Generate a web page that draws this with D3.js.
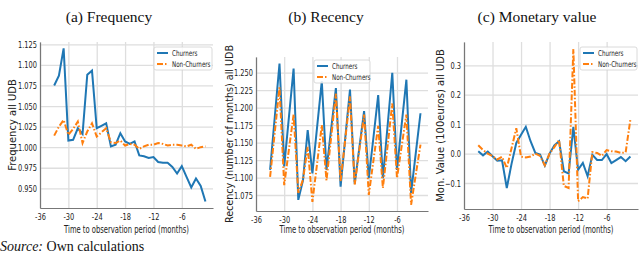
<!DOCTYPE html>
<html>
<head>
<meta charset="utf-8">
<script src="https://cdn.jsdelivr.net/npm/d3@7"></script>
<style>
body { margin: 0; background: #fff; }
svg { display: block; }
</style>
</head>
<body>
<script>
// months before the observation period
var months = d3.range(-33, 0);
var monthTicks = [-36, -30, -24, -18, -12, -6];

var freqChurners = [1.075, 1.087, 1.120, 1.008, 1.009, 1.023, 1.016, 1.088, 1.093, 1.023, 1.026, 1.029, 1.001, 1.003, 1.017,
    1.007, 1.004, 1.007, 0.990, 0.989, 0.987, 0.988, 0.982, 0.981, 0.981, 0.976, 0.968, 0.977, 0.964, 0.951, 0.962, 0.953, 0.934];
var freqNonChurners = [1.014, 1.025, 1.033, 1.015, 1.022, 1.031, 1.005, 1.019, 1.029, 1.013, 1.018, 1.023, 1.006, 1.005, 1.008,
    1.002, 1.004, 1.003, 0.998, 1.001, 1.003, 1.003, 1.005, 1.004, 1.002, 1.003, 1.003, 1.002, 1.001, 1.003, 0.998, 1.000, 1.001];

var recChurners = [1.111, 1.187, 1.263, 1.116, 1.186, 1.256, 1.068, 1.096, 1.168, 1.106, 1.172, 1.238, 1.111, 1.170, 1.228,
    1.087, 1.157, 1.226, 1.091, 1.143, 1.195, 1.099, 1.158, 1.218, 1.099, 1.174, 1.250, 1.111, 1.176, 1.240, 1.078, 1.135, 1.192];
var recNonChurners = [1.101, 1.165, 1.229, 1.089, 1.140, 1.190, 1.078, 1.097, 1.144, 1.065, 1.120, 1.175, 1.096, 1.158, 1.220,
    1.095, 1.155, 1.216, 1.090, 1.140, 1.190, 1.075, 1.125, 1.174, 1.085, 1.145, 1.206, 1.099, 1.145, 1.190, 1.061, 1.104, 1.147];

var monChurners = [0.008, -0.006, 0.007, -0.009, -0.024, -0.023, -0.117, -0.035, 0.036, 0.064, 0.091, 0.042, 0.002, -0.003, -0.041,
    0.000, 0.028, 0.042, -0.060, -0.068, 0.091, -0.055, -0.032, -0.077, -0.004, -0.022, -0.022, -0.002, -0.032, -0.022, -0.012, -0.026, -0.010];
var monNonChurners = [0.028, 0.012, 0.000, -0.009, -0.020, -0.011, -0.049, 0.018, 0.086, -0.011, -0.013, -0.010, 0.000, -0.008, -0.040,
    0.000, 0.022, 0.046, -0.110, -0.117, 0.355, -0.162, -0.148, -0.153, 0.005, 0.002, -0.008, 0.012, 0.008, 0.007, 0.002, 0.004, 0.116];

var freqTicks = [0.950, 0.975, 1.000, 1.025, 1.050, 1.075, 1.100, 1.125];
var recTicks = [1.075, 1.100, 1.125, 1.150, 1.175, 1.200, 1.225, 1.250];
var monTicks = [-0.1, 0.0, 0.1, 0.2, 0.3];

var seriesNames = ["Churners", "Non-Churners"];
var blue = "#1f77b4", orange = "#ff7f0e";
var dashDot = "6,2,1.5,2";
var squeeze = 0.7;   // the figure was squashed sideways

var svg = d3.select("body").append("svg")
    .attr("width", 640)
    .attr("height", 255);

function drawPanel(p) {
    var x = d3.scaleLinear().domain([-36, 0.6]).range([p.left, p.right]);
    var y = d3.scaleLinear().domain(p.yDomain).range([p.bottom, p.top]);
    var g = svg.append("g");

    // grid
    g.append("g")
        .attr("transform", "translate(0," + p.bottom + ")")
        .call(d3.axisBottom(x).tickValues(monthTicks).tickSize(-(p.bottom - p.top)).tickFormat(""))
        .call(function(s) { s.select(".domain").remove(); })
        .selectAll("line").attr("stroke", "#dedede").attr("stroke-width", 1.3);
    g.append("g")
        .attr("transform", "translate(" + p.left + ",0)")
        .call(d3.axisLeft(y).tickValues(p.yTicks).tickSize(-(p.right - p.left)).tickFormat(""))
        .call(function(s) { s.select(".domain").remove(); })
        .selectAll("line").attr("stroke", "#dedede").attr("stroke-width", 1.3);

    // X-as
    var xa = g.append("g")
        .attr("transform", "translate(0," + p.bottom + ")")
        .call(d3.axisBottom(x).tickValues(monthTicks).tickSize(0).tickPadding(5).tickFormat(function(d) { return d; }));
    xa.select(".domain").attr("stroke", "#777").attr("stroke-width", 1.2);
    xa.selectAll("text")
        .attr("transform", "scale(" + squeeze + ",1)")
        .style("font-family", "DejaVu Sans")
        .style("font-size", "9.5px")
        .style("fill", "#222");

    // Y-as
    var ya = g.append("g")
        .attr("transform", "translate(" + p.left + ",0)")
        .call(d3.axisLeft(y).tickValues(p.yTicks).tickSize(0).tickPadding(3).tickFormat(p.fmt));
    ya.select(".domain").attr("stroke", "#777").attr("stroke-width", 1.2);
    ya.selectAll("text")
        .attr("x", -3 / squeeze)
        .attr("transform", "scale(" + squeeze + ",1)")
        .style("font-family", "DejaVu Sans")
        .style("font-size", "9.5px")
        .style("fill", "#222");

    // lijnen
    var line = d3.line()
        .x(function(d, i) { return x(months[i]); })
        .y(function(d) { return y(d); });
    g.append("path")
        .datum(p.churners)
        .attr("d", line)
        .attr("fill", "none")
        .attr("stroke", blue)
        .attr("stroke-width", 2);
    g.append("path")
        .datum(p.nonChurners)
        .attr("d", line)
        .attr("fill", "none")
        .attr("stroke", orange)
        .attr("stroke-width", 2)
        .attr("stroke-dasharray", dashDot);

    // titel
    g.append("text")
        .attr("x", p.titleX)
        .attr("y", 22)
        .attr("text-anchor", "middle")
        .style("font-family", "Liberation Serif")
        .style("font-size", "15.5px")
        .style("fill", "#111")
        .text(p.title);

    // as-labels
    var cx = (p.left + p.right) / 2;
    g.append("text")
        .attr("transform", "translate(" + cx + ",233) scale(0.68,1)")
        .attr("text-anchor", "middle")
        .style("font-family", "DejaVu Sans")
        .style("font-size", "10px")
        .style("fill", "#222")
        .text("Time to observation period (months)");
    g.append("text")
        .attr("transform", "translate(" + p.yLabelX + "," + ((p.top + p.bottom) / 2) + ") rotate(-90)")
        .attr("text-anchor", "middle")
        .attr("dy", "0.35em")
        .style("font-family", "DejaVu Sans")
        .style("font-size", p.yLabelSize)
        .style("fill", "#222")
        .text(p.yLabel);

    // legenda
    var lg = g.append("g").attr("transform", "translate(" + p.legX + "," + p.legY + ")");
    lg.append("rect")
        .attr("width", p.legW)
        .attr("height", 23)
        .attr("rx", 2)
        .attr("fill", "white")
        .attr("fill-opacity", 0.85)
        .attr("stroke", "#d0d0d0")
        .attr("stroke-width", 0.8);
    seriesNames.forEach(function(name, i) {
        var ry = 6 + i * 11;
        lg.append("line")
            .attr("x1", 3).attr("x2", 14)
            .attr("y1", ry).attr("y2", ry)
            .attr("stroke", i === 0 ? blue : orange)
            .attr("stroke-width", 2)
            .attr("stroke-dasharray", i === 0 ? null : dashDot);
        lg.append("text")
            .attr("transform", "translate(18," + ry + ") scale(0.7,1)")
            .attr("dy", "0.35em")
            .style("font-family", "DejaVu Sans")
            .style("font-size", "8px")
            .style("fill", "#222")
            .text(name);
    });
}

var minusFmt = function(d) { return d3.format(".1f")(d).replace("-", "\u2212"); };

drawPanel({
    left: 40, right: 213, top: 42, bottom: 208,
    yDomain: [0.9261, 1.1278], yTicks: freqTicks, fmt: d3.format(".3f"),
    churners: freqChurners, nonChurners: freqNonChurners,
    title: "(a) Frequency", titleX: 109,
    yLabel: "Frequency all UDB", yLabelX: 12, yLabelSize: "10px",
    legX: 154, legY: 47, legW: 58
});
drawPanel({
    left: 256, right: 428, top: 57, bottom: 211,
    yDomain: [1.0521, 1.2725], yTicks: recTicks, fmt: d3.format(".3f"),
    churners: recChurners, nonChurners: recNonChurners,
    title: "(b) Recency", titleX: 326,
    yLabel: "Recency (number of months) all UDB", yLabelX: 229.5, yLabelSize: "9.6px",
    legX: 314, legY: 60, legW: 56
});
drawPanel({
    left: 464, right: 638, top: 42, bottom: 209,
    yDomain: [-0.1884, 0.3792], yTicks: monTicks, fmt: minusFmt,
    churners: monChurners, nonChurners: monNonChurners,
    title: "(c) Monetary value", titleX: 537,
    yLabel: "Mon. Value (100euros) all UDB", yLabelX: 440, yLabelSize: "10px",
    legX: 580, legY: 47, legW: 57
});

// bron
var src = svg.append("text")
    .attr("x", 0)
    .attr("y", 251)
    .style("font-family", "Liberation Serif")
    .style("font-size", "14px")
    .style("fill", "#111");
src.append("tspan").style("font-style", "italic").text("Source:");
src.append("tspan").text(" Own calculations");
</script>
</body>
</html>
